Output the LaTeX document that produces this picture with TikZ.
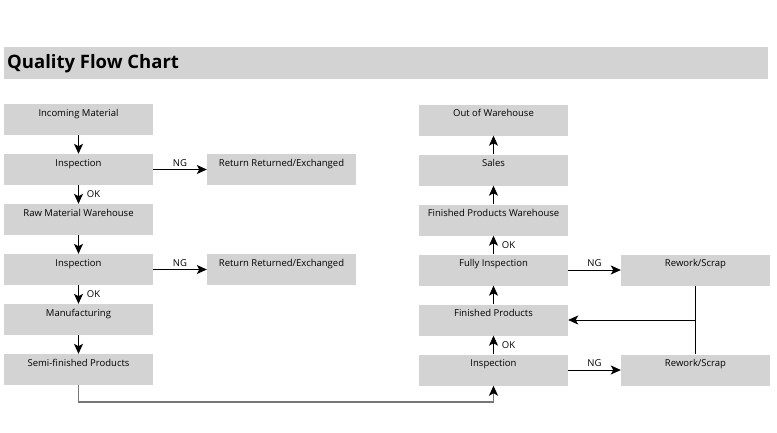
\documentclass[tikz,border=0pt]{standalone}
\usepackage{fontspec}
\setmainfont{Open Sans}
\usetikzlibrary{arrows.meta}
\definecolor{boxgray}{RGB}{211,211,212}
\definecolor{linegray}{RGB}{118,118,118}
\tikzstyle{process} = [rectangle, minimum width=149pt, inner xsep=0pt, inner ysep=0pt, text height=12pt, text depth=19pt, text centered, fill=boxgray, font=\fontsize{9.5pt}{11pt}\selectfont]
\tikzstyle{arrow} = [thick,-{Stealth[length=10pt,width=9pt,inset=2.5pt]}]
\tikzstyle{tag} = [font=\fontsize{9.5pt}{11pt}\selectfont, inner sep=1pt]

\begin{document}
\begin{tikzpicture}[node distance=50pt, x=1pt, y=1pt]
		\useasboundingbox (0,0) rectangle (777,-432);
		\fill [boxgray] (4,-47) rectangle (768,-79);
		\node (title) [anchor=west, inner sep=0pt, font=\bfseries\fontsize{18.5pt}{22pt}\selectfont] at (7,-64) {Quality Flow Chart};
		% left column
		\node (l1) [process] at (78.5,-119.5) {Incoming Material};
		\node (l2) [process, below of=l1] {Inspection};
		\node (l3) [process, below of=l2] {Raw Material Warehouse};
		\node (l4) [process, below of=l3] {Inspection};
		\node (l5) [process, below of=l4] {Manufacturing};
		\node (l6) [process, below of=l5] {Semi-finished Products};
		\node (n1) [process, right of=l2, node distance=203pt] {Return Returned/Exchanged};
		\node (n2) [process, right of=l4, node distance=203pt] {Return Returned/Exchanged};
		% right column
		\node (r6) [process] at (493.5,-370) {Inspection};
		\node (r5) [process, above of=r6] {Finished Products};
		\node (r4) [process, above of=r5] {Fully Inspection};
		\node (r3) [process, above of=r4] {Finished Products Warehouse};
		\node (r2) [process, above of=r3] {Sales};
		\node (r1) [process, above of=r2] {Out of Warehouse};
		\node (w1) [process, right of=r4, node distance=202pt] {Rework/Scrap};
		\node (w2) [process, right of=r6, node distance=202pt] {Rework/Scrap};
		\draw [arrow] (l1) -- (l2);
		\draw [arrow] (l2) -- node [tag, right, xshift=7pt] {OK} (l3);
		\draw [arrow] (l3) -- (l4);
		\draw [arrow] (l4) -- node [tag, right, xshift=7pt] {OK} (l5);
		\draw [arrow] (l5) -- (l6);
		\draw [arrow] (l2) -- node [tag, above, yshift=2pt] {NG} (n1);
		\draw [arrow] (l4) -- node [tag, above, yshift=2pt] {NG} (n2);
		\draw [arrow, draw=linegray, line width=1.6pt, -{Stealth[length=10pt,width=9pt,inset=2.5pt,black]}] (l6.south) -- ++(0,-17) -| (r6.south);
		\draw [arrow] (r6) -- node [tag, right, xshift=7pt] {OK} (r5);
		\draw [arrow] (r5) -- (r4);
		\draw [arrow] (r4) -- node [tag, right, xshift=7pt] {OK} (r3);
		\draw [arrow] (r3) -- (r2);
		\draw [arrow] (r2) -- (r1);
		\draw [arrow] (r4) -- node [tag, above, yshift=2pt] {NG} (w1);
		\draw [arrow] (r6) -- node [tag, above, yshift=2pt] {NG} (w2);
		\draw [thick] (w1) -- (w2);
		\coordinate (j) at (w1 |- r5);
		\draw [arrow] (j) -- (r5);
		\end{tikzpicture}
\end{document}
